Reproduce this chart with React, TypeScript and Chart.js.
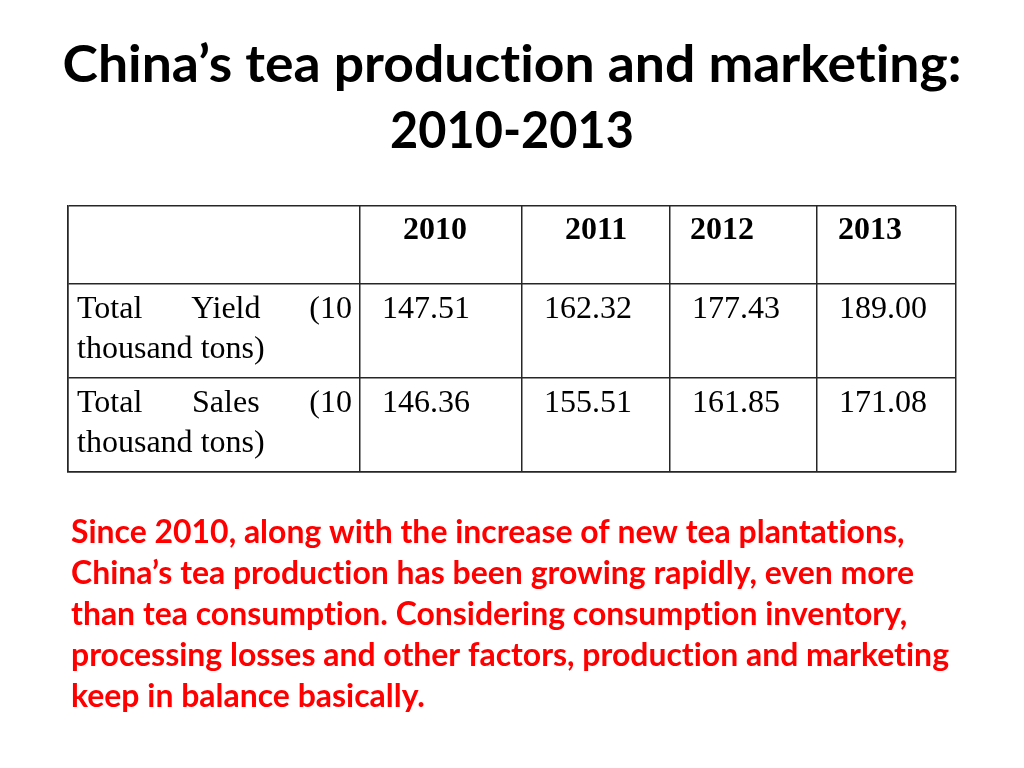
import React, { useEffect, useRef } from 'react';
import { Chart, registerables } from 'chart.js';

Chart.register(...registerables);

// ---- data ----
const TITLE_LINES = ['China’s tea production and marketing:', '2010-2013'];
const YEARS = ['2010', '2011', '2012', '2013'];
const ROW_LABELS = ['Total Yield (10 thousand tons)', 'Total Sales (10 thousand tons)'];
const YIELD_VALUES = [147.51, 162.32, 177.43, 189.0];
const SALES_VALUES = [146.36, 155.51, 161.85, 171.08];
const NOTE_LINES = [
  'Since 2010, along with the increase of new tea plantations,',
  'China’s tea production has been growing rapidly, even more',
  'than tea consumption. Considering consumption inventory,',
  'processing losses and other factors, production and marketing',
  'keep in balance basically.',
];

// ---- layout (table grid in scale units = px) ----
const COL_WIDTHS = [292, 162, 148, 147, 139];
const ROW_HEIGHTS = [78, 94, 94];
const HEADER_INSETS = [43, 43, 20, 21];
const VALUE_INSET = 22;
const LABEL_PAD_L = 9;
const LABEL_PAD_R = 8;
const TITLE_WIDTHS = [899, 244];

const cumulative = (arr: number[]) => {
  const out = [0];
  arr.forEach((v) => out.push(out[out.length - 1] + v));
  return out;
};
const COL_EDGES = cumulative(COL_WIDTHS);
const ROW_EDGES = cumulative(ROW_HEIGHTS);

function wrapWords(ctx: CanvasRenderingContext2D, text: string, maxWidth: number): string[][] {
  const words = text.split(' ');
  const lines: string[][] = [];
  let cur: string[] = [];
  for (const w of words) {
    const test = [...cur, w].join(' ');
    if (cur.length && ctx.measureText(test).width > maxWidth) {
      lines.push(cur);
      cur = [w];
    } else cur.push(w);
  }
  if (cur.length) lines.push(cur);
  return lines;
}

const textPlugin = {
  id: 'tableText',
  afterDraw(chart: any) {
    const ctx: any = chart.ctx;
    const xs = chart.scales.x;
    const ys = chart.scales.y;
    ctx.save();
    ctx.fillStyle = '#000';
    ctx.textBaseline = 'alphabetic';
    try {
      ctx.letterSpacing = '0.01px';
    } catch (e) {}

    // Title
    ctx.font = 'bold 52px Lato';
    const titleBase = [82, 148];
    TITLE_LINES.forEach((t, i) => {
      const sx = TITLE_WIDTHS[i] / ctx.measureText(t).width;
      ctx.save();
      ctx.translate(512, titleBase[i]);
      ctx.scale(sx, 1);
      ctx.textAlign = 'center';
      ctx.fillText(t, 0, 0);
      ctx.restore();
    });

    // Header row
    ctx.textAlign = 'left';
    ctx.font = 'bold 32px "Liberation Serif"';
    YEARS.forEach((y, i) => {
      const x = xs.getPixelForValue(COL_EDGES[i + 1]) + HEADER_INSETS[i];
      const yy = ys.getPixelForValue(ROW_EDGES[0]) + 33;
      ctx.fillText(y, x, yy);
    });

    // Body rows
    ctx.font = '32px "Liberation Serif"';
    const rows = [YIELD_VALUES, SALES_VALUES];
    rows.forEach((vals, r) => {
      const top = ys.getPixelForValue(ROW_EDGES[r + 1]);
      const left = xs.getPixelForValue(COL_EDGES[0]) + LABEL_PAD_L;
      const maxW = COL_WIDTHS[0] - LABEL_PAD_L - LABEL_PAD_R;
      const lines = wrapWords(ctx, ROW_LABELS[r], maxW);
      lines.forEach((words, li) => {
        const base = top + 34 + li * 40;
        if (li < lines.length - 1 && words.length > 1) {
          const widths = words.map((w) => ctx.measureText(w).width);
          const sum = widths.reduce((a: number, b: number) => a + b, 0);
          const gap = (maxW - sum) / (words.length - 1);
          let x = left;
          words.forEach((w, wi) => {
            ctx.fillText(w, x, base);
            x += widths[wi] + gap;
          });
        } else {
          ctx.fillText(words.join(' '), left, base);
        }
      });
      vals.forEach((v, i) => {
        const x = xs.getPixelForValue(COL_EDGES[i + 1]) + VALUE_INSET;
        ctx.fillText(v.toFixed(2), x, top + 34);
      });
    });

    // Note paragraph
    ctx.fillStyle = '#ff0000';
    ctx.font = 'bold 32px Lato';
    const nsx = 878 / ctx.measureText(NOTE_LINES[3]).width;
    NOTE_LINES.forEach((t, i) => {
      ctx.save();
      ctx.translate(71, 543 + i * 41);
      ctx.scale(nsx, 1);
      ctx.textAlign = 'left';
      ctx.fillText(t, 0, 0);
      ctx.restore();
    });
    ctx.restore();
  },
};

export default function App() {
  const ref = useRef<HTMLCanvasElement>(null);
  useEffect(() => {
    if (!ref.current) return;
    const gridColor = '#262626';
    const chart = new Chart(ref.current, {
      type: 'scatter',
      data: { datasets: [] },
      options: {
        responsive: false,
        animation: false,
        devicePixelRatio: 1,
        layout: { padding: { top: 206, left: 68, right: 68, bottom: 296 } },
        plugins: { legend: { display: false }, tooltip: { enabled: false }, title: { display: false } },
        scales: {
          x: {
            type: 'linear',
            min: 0,
            max: COL_EDGES[COL_EDGES.length - 1],
            afterBuildTicks: (s: any) => {
              s.ticks = COL_EDGES.map((v) => ({ value: v }));
            },
            ticks: { display: false },
            grid: { drawTicks: false, color: gridColor, lineWidth: 1.5 },
            border: { display: true, color: gridColor, width: 1.5 },
          },
          y: {
            type: 'linear',
            reverse: true,
            min: 0,
            max: ROW_EDGES[ROW_EDGES.length - 1],
            afterBuildTicks: (s: any) => {
              s.ticks = ROW_EDGES.map((v) => ({ value: v }));
            },
            ticks: { display: false },
            grid: { drawTicks: false, color: gridColor, lineWidth: 1.5 },
            border: { display: true, color: gridColor, width: 1.5 },
          },
        },
      },
      plugins: [textPlugin],
    } as any);
    return () => chart.destroy();
  }, []);
  return (
    <div style={{ position: 'absolute', left: 0, top: 0, width: 1024, height: 768, background: '#fff' }}>
      <canvas ref={ref} width={1024} height={768} style={{ display: 'block' }} />
    </div>
  );
}
